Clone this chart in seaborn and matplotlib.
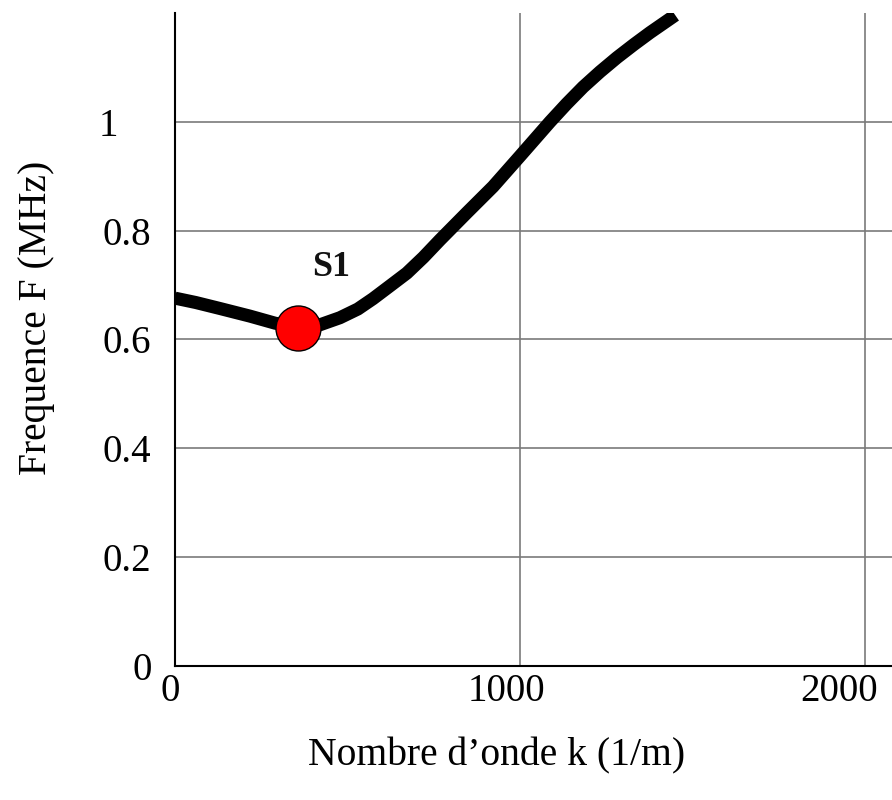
import matplotlib
matplotlib.use("Agg")
import matplotlib.pyplot as plt
import matplotlib.transforms as mtransforms
import seaborn as sns
import pandas as pd

# data
k_values = [0, 60, 130, 217, 290, 357, 420, 478, 530, 574, 620, 672, 720, 768, 846, 922, 1000, 1087, 1135, 1183, 1232, 1281, 1330, 1377, 1450]
f_values = [0.676, 0.668, 0.657, 0.643, 0.630, 0.622, 0.627, 0.640, 0.656, 0.675, 0.697, 0.722, 0.751, 0.783, 0.833, 0.881, 0.937, 1.000, 1.033, 1.064, 1.092, 1.118, 1.142, 1.164, 1.196]
point_k = [357]
point_f = [0.621]
point_label = "S1"
x_ticks = [0, 1000, 2000]
y_ticks = [0, 0.2, 0.4, 0.6, 0.8, 1.0]
y_tick_labels = ["0", "0.2", "0.4", "0.6", "0.8", "1"]

sns.set_theme(style="white")
plt.rcParams['font.family'] = ['Liberation Serif', 'DejaVu Serif']

fig = plt.figure(figsize=(8.92, 8.0), dpi=100)
W, H = 892, 800
ax_left, ax_bottom_px, ax_top_px = 175, 666, 13
px_per_k = 0.345
xmax = 2100
ax_w_px = xmax * px_per_k
ax_h_px = ax_bottom_px - ax_top_px
ax = fig.add_axes([ax_left / W, (H - ax_bottom_px) / H, ax_w_px / W, ax_h_px / H])

df = pd.DataFrame({"k": k_values, "F": f_values})
sns.lineplot(data=df, x="k", y="F", ax=ax, color="black", linewidth=9.4,
             sort=False, estimator=None, zorder=3, solid_capstyle="butt",
             solid_joinstyle="round")
sns.scatterplot(x=point_k, y=point_f, ax=ax, color="#ff0000", s=1050,
                edgecolor="black", linewidth=1.0, zorder=4)
ax.text(452, 0.732, point_label, fontsize=26, fontweight="bold",
        ha="center", va="center", color="#111111")

ax.set_xlim(0, xmax)
ax.set_ylim(0, 1.2)
ax.set_xticks(x_ticks)
ax.set_xticklabels([str(v) for v in x_ticks])
ax.set_yticks(y_ticks)
ax.set_yticklabels(y_tick_labels)

ax.grid(True, color="#7a7a7a", linewidth=1.2)
ax.set_axisbelow(True)
for s in ["top", "right"]:
    ax.spines[s].set_visible(False)
for s in ["left", "bottom"]:
    ax.spines[s].set_color("black")
    ax.spines[s].set_linewidth(1.5)

ax.tick_params(axis="both", direction="in", length=6, width=1.2, color="black",
               labelsize=28, labelcolor="black")
ax.tick_params(axis="y", pad=17)
ax.tick_params(axis="x", pad=5)
ax.get_yticklabels()[-1].set_x(-33 / ax_w_px)

# small horizontal shifts of x tick labels as in the reference
shifts_px = [-5, -14, -26]
for lab, dx in zip(ax.get_xticklabels(), shifts_px):
    lab.set_transform(lab.get_transform() + mtransforms.ScaledTranslation(dx / 100, 0, fig.dpi_scale_trans))

ax.set_xlabel("Nombre d\u2019onde k (1/m)", fontsize=28.5, color="black", va="center")
ax.xaxis.set_label_coords((497 - ax_left) / ax_w_px, (ax_bottom_px - 756) / ax_h_px)
ax.set_ylabel("Frequence F (MHz)", fontsize=28.5, color="black", va="center")
ax.yaxis.set_label_coords((37 - ax_left) / ax_w_px, (ax_bottom_px - 318) / ax_h_px)

fig.savefig("out.png", dpi=100, facecolor="white")
